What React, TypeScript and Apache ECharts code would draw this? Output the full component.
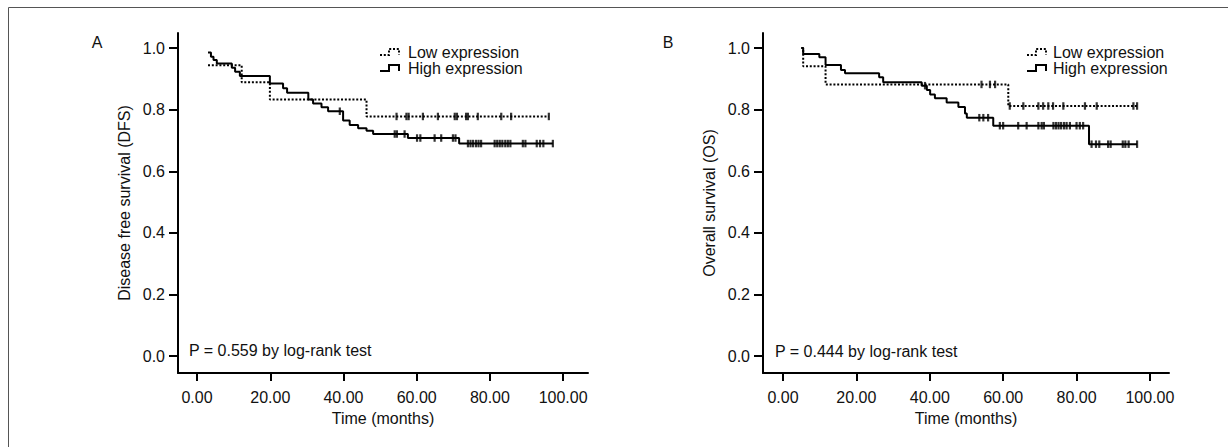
import React, { useEffect, useRef } from "react";
import * as echarts from "echarts";

// ---- ticks ----
const timeTicks = [0, 20, 40, 60, 80, 100];
const survivalTicks = [0, 0.2, 0.4, 0.6, 0.8, 1.0];

// ---- Panel A: Disease free survival ----
const dfsLowTime = [3.0, 12.2, 19.9, 46.3, 96.1];
const dfsLowSurv = [0.944, 0.889, 0.833, 0.778, 0.778];
const dfsLowCensor = [54.5, 57.2, 57.8, 61.7, 65.8, 70.4, 71.0, 73.5, 74.0, 76.7, 83.1, 85.8, 96.1];

const dfsHighTime = [3.0, 3.8, 4.5, 5.4, 9.5, 10.4, 11.7, 19.9, 23.5, 24.6, 30.4, 31.7, 34.0, 35.8, 39.9, 41.7, 44.0, 46.3, 48.1, 57.6, 71.6, 97.2];
const dfsHighSurv = [0.986, 0.972, 0.961, 0.95, 0.936, 0.923, 0.909, 0.885, 0.87, 0.855, 0.833, 0.82, 0.808, 0.795, 0.765, 0.75, 0.74, 0.732, 0.721, 0.708, 0.69, 0.69];
const dfsHighCensor = [39.0, 54.0, 54.6, 56.7, 60.1, 61.0, 64.9, 66.7, 69.9, 70.6, 74.0, 74.7, 75.4, 76.2, 76.9, 77.6, 81.3, 82.0, 82.7, 83.4, 84.2, 84.9, 85.6, 89.0, 89.7, 92.8, 93.7, 94.6, 97.2];

// ---- Panel B: Overall survival ----
const osLowTime = [5.0, 5.5, 11.6, 61.4, 96.5];
const osLowSurv = [1.0, 0.941, 0.882, 0.812, 0.812];
const osLowCensor = [54.1, 56.4, 57.8, 61.8, 65.5, 69.6, 70.9, 72.3, 73.6, 76.4, 82.3, 85.5, 95.5, 96.5];

const osHighTime = [5.0, 5.5, 9.9, 11.6, 15.8, 16.9, 26.2, 27.3, 37.8, 39.2, 40.1, 41.4, 44.6, 47.8, 49.6, 50.1, 57.3, 83.4, 96.5];
const osHighSurv = [1.0, 0.981, 0.97, 0.945, 0.929, 0.918, 0.905, 0.889, 0.878, 0.864, 0.849, 0.837, 0.823, 0.809, 0.788, 0.774, 0.748, 0.688, 0.688];
const osHighCensor = [38.7, 53.5, 54.6, 55.9, 59.1, 60.0, 64.1, 66.4, 69.6, 70.5, 71.1, 73.7, 74.4, 75.1, 75.8, 76.6, 77.3, 78.2, 80.0, 80.9, 81.8, 84.1, 85.3, 86.2, 88.6, 89.3, 92.6, 93.3, 94.2, 96.5];

const seriesNames = ["Low expression", "High expression"];
const yTitles = ["Disease free survival (DFS)", "Overall survival (OS)"];
const pTexts = ["P = 0.559 by log-rank test", "P = 0.444 by log-rank test"];
const panelLetters = ["A", "B"];

const FONT = "'Liberation Sans', Arial, Helvetica, sans-serif";
const INK = "#111";

function stepPoints(times: number[], surv: number[]) {
  return times.map((t, i) => [t, surv[i]]);
}
function survivalAt(times: number[], surv: number[], t: number) {
  let s = surv[0];
  for (let i = 0; i < times.length; i++) if (times[i] <= t) s = surv[i];
  return s;
}
function censorPoints(times: number[], surv: number[], censor: number[]) {
  return censor.map((t) => [t, survivalAt(times, surv, t)]);
}

const DOT: any = [2, 1.8];

export default function App() {
  const ref = useRef<HTMLDivElement>(null);
  useEffect(() => {
    if (!ref.current) return;
    const chart = echarts.init(ref.current, null, { renderer: "svg" });

    const grids = [
      { left: 178, top: 33, width: 410, height: 340 },
      { left: 763, top: 33, width: 406, height: 340 },
    ];
    const xRanges = [
      [-5.2, 106.8],
      [-5.45, 105.2],
    ];

    const xAxes = grids.map((_, i) => ({
      type: "value",
      gridIndex: i,
      min: xRanges[i][0],
      max: xRanges[i][1],
      name: "Time (months)",
      nameLocation: "middle",
      nameGap: 37,
      nameTextStyle: { fontSize: 16, color: INK, fontFamily: FONT },
      axisLine: { show: true, onZero: false, lineStyle: { color: "#000", width: 2 } },
      axisTick: { show: true, customValues: timeTicks, length: 8, lineStyle: { color: "#000", width: 2 } },
      axisLabel: {
        customValues: timeTicks,
        formatter: (v: number) => v.toFixed(2),
        fontSize: 16,
        color: INK,
        fontFamily: FONT,
        margin: 16,
      },
      splitLine: { show: false },
    }));

    const yAxes = grids.map((_, i) => ({
      type: "value",
      gridIndex: i,
      min: -0.055,
      max: 1.049,
      name: yTitles[i],
      nameLocation: "middle",
      nameRotate: 90,
      nameGap: 46,
      nameTextStyle: { fontSize: 16, color: INK, fontFamily: FONT },
      axisLine: { show: true, onZero: false, lineStyle: { color: "#000", width: 2 } },
      axisTick: { show: true, customValues: survivalTicks, length: 9, lineStyle: { color: "#000", width: 2 } },
      axisLabel: {
        customValues: survivalTicks,
        formatter: (v: number) => v.toFixed(1),
        fontSize: 16,
        color: INK,
        fontFamily: FONT,
        margin: 13,
      },
      splitLine: { show: false },
    }));

    const panels = [
      { lowT: dfsLowTime, lowS: dfsLowSurv, lowC: dfsLowCensor, highT: dfsHighTime, highS: dfsHighSurv, highC: dfsHighCensor },
      { lowT: osLowTime, lowS: osLowSurv, lowC: osLowCensor, highT: osHighTime, highS: osHighSurv, highC: osHighCensor },
    ];

    const series: any[] = [];
    panels.forEach((p, i) => {
      series.push({
        type: "line",
        name: seriesNames[0],
        xAxisIndex: i,
        yAxisIndex: i,
        step: "end",
        symbol: "none",
        data: stepPoints(p.lowT, p.lowS),
        lineStyle: { color: "#000", width: 2, type: DOT },
        silent: true,
      });
      series.push({
        type: "line",
        name: seriesNames[1],
        xAxisIndex: i,
        yAxisIndex: i,
        step: "end",
        symbol: "none",
        data: stepPoints(p.highT, p.highS),
        lineStyle: { color: "#000", width: 2 },
        silent: true,
      });
      series.push({
        type: "scatter",
        name: seriesNames[0] + " censored",
        xAxisIndex: i,
        yAxisIndex: i,
        symbol: "rect",
        symbolSize: [2.2, 7.5],
        itemStyle: { color: "#000" },
        data: censorPoints(p.lowT, p.lowS, p.lowC),
        silent: true,
      });
      series.push({
        type: "scatter",
        name: seriesNames[1] + " censored",
        xAxisIndex: i,
        yAxisIndex: i,
        symbol: "rect",
        symbolSize: [2.2, 7.5],
        itemStyle: { color: "#000" },
        data: censorPoints(p.highT, p.highS, p.highC),
        silent: true,
      });
    });

    const legendPos = [
      { iconX: 380, textX: 408 },
      { iconX: 1027, textX: 1053 },
    ];
    const legendRows = [52, 68];

    const graphic: any[] = [
      {
        type: "rect",
        shape: { x: 8.5, y: 7.5, width: 1240, height: 460 },
        style: { fill: "none", stroke: "#555", lineWidth: 1 },
        silent: true,
      },
      {
        type: "text",
        x: 97,
        y: 42,
        style: { text: panelLetters[0], fontSize: 16, fill: INK, fontFamily: FONT, align: "center", verticalAlign: "middle" },
      },
      {
        type: "text",
        x: 668,
        y: 42,
        style: { text: panelLetters[1], fontSize: 16, fill: INK, fontFamily: FONT, align: "center", verticalAlign: "middle" },
      },
      {
        type: "text",
        x: 189,
        y: 350,
        style: { text: pTexts[0], fontSize: 16, fill: INK, fontFamily: FONT, align: "left", verticalAlign: "middle" },
      },
      {
        type: "text",
        x: 775,
        y: 351,
        style: { text: pTexts[1], fontSize: 16, fill: INK, fontFamily: FONT, align: "left", verticalAlign: "middle" },
      },
    ];
    legendPos.forEach((lp) => {
      legendRows.forEach((cy, r) => {
        const x0 = lp.iconX;
        graphic.push({
          type: "polyline",
          shape: {
            points: [
              [x0, cy + 3],
              [x0 + 9, cy + 3],
              [x0 + 9, cy - 3],
              [x0 + 19, cy - 3],
              [x0 + 19, cy + 3],
            ],
          },
          style: { stroke: "#000", lineWidth: 2, fill: "none", lineDash: r === 0 ? [2, 1.8] : null },
          silent: true,
        });
        graphic.push({
          type: "text",
          x: lp.textX,
          y: cy,
          style: { text: seriesNames[r], fontSize: 16, fill: INK, fontFamily: FONT, align: "left", verticalAlign: "middle" },
        });
      });
    });

    chart.setOption({
      animation: false,
      backgroundColor: "#fff",
      grid: grids,
      xAxis: xAxes,
      yAxis: yAxes,
      series,
      graphic,
    });

    return () => chart.dispose();
  }, []);

  return (
    <div
      ref={ref}
      style={{ position: "absolute", left: 0, top: 0, width: 1228, height: 447, background: "#fff" }}
    />
  );
}
